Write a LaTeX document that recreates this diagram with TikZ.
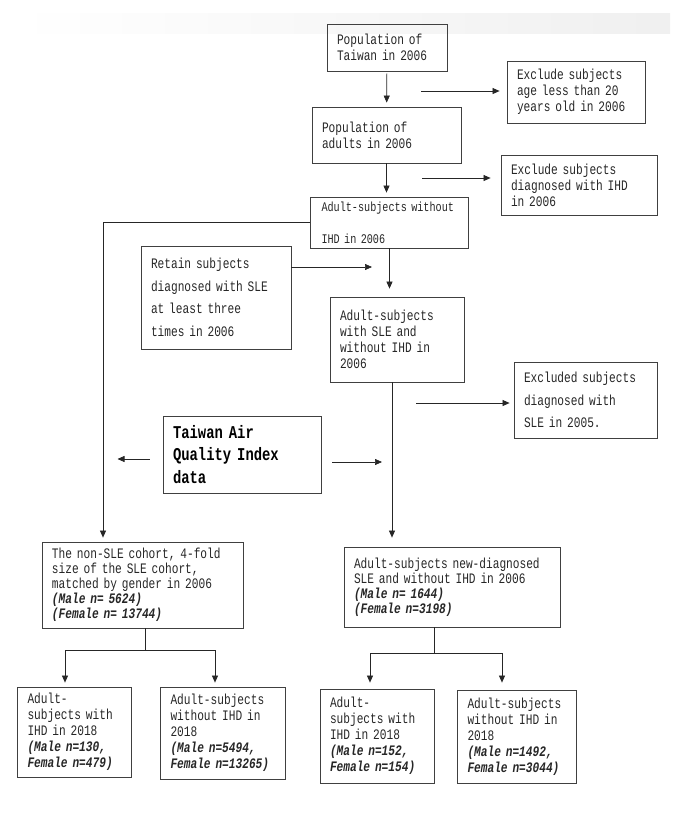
\documentclass[tikz,border=0pt]{standalone}
\usepackage{fontspec}
\newfontfamily\boxfont[FakeStretch=0.77]{Liberation Mono}
\usetikzlibrary{arrows.meta}
\newcommand{\ncount}[1]{\textbf{\textit{#1}}}
\tikzset{
  stepbox/.style   = {draw=black!75, line width=0.8pt, align=left,
                      inner xsep=10pt, inner ysep=2pt, text=black!85,
                      font=\boxfont\fontsize{14.5}{16}\selectfont},
  arr/.style       = {-{Triangle[length=7pt,width=6pt]}, line width=0.7pt,
                      black!85},
  plainline/.style = {line width=0.7pt, black!85}
}

\begin{document}
\begin{tikzpicture}[x=1pt,y=-1pt]
  \useasboundingbox (0,0) rectangle (685,823);
  \shade[left color=white, right color=black!6] (15,13) rectangle (670,33);

  % main column
  \node[stepbox,text width=100pt,minimum height=47pt] (pop) at (387,47.5)
       {Population of\\Taiwan in 2006};
  \node[stepbox,text width=118pt,minimum height=62pt] (exage) at (576,92)
       {Exclude subjects\\age less than 20\\years old in 2006};
  \node[stepbox,text width=129pt,minimum height=56pt] (adults) at (386.5,135)
       {Population of\\adults in 2006};
  \node[stepbox,text width=136pt,minimum height=60pt] (exihd) at (579,185)
       {Exclude subjects\\diagnosed with IHD\\in 2006};
  \node[stepbox,text width=136pt,inner xsep=11pt,minimum height=51pt,
        font=\boxfont\fontsize{13.2}{32}\selectfont] (noihd) at (389.5,222.5)
       {Adult-subjects without\\IHD in 2006};
  \node[stepbox,text width=130pt,minimum height=103pt,
        font=\boxfont\fontsize{14.5}{22.5}\selectfont] (retain) at (216,297.5)
       {Retain subjects\\diagnosed with SLE\\at least three\\times in 2006};
  \node[stepbox,text width=114pt,minimum height=85pt] (sle) at (397,339.5)
       {Adult-subjects\\with SLE and\\without IHD in\\2006};
  \node[stepbox,text width=123pt,minimum height=76pt,
        font=\boxfont\fontsize{14.5}{22.5}\selectfont] (exsle) at (585.5,400)
       {Excluded subjects\\diagnosed with\\SLE in 2005.};
  \node[stepbox,text width=138pt,minimum height=77pt,text=black,
        font=\boxfont\bfseries\fontsize{18}{22.7}\selectfont] (air) at (242,454.5)
       {Taiwan Air\\Quality Index\\data};

  % cohorts
  \node[stepbox,text width=181pt,minimum height=86pt,
        font=\boxfont\fontsize{14.5}{15}\selectfont] (nonsle) at (142.5,585)
       {The non-SLE cohort, 4-fold\\size of the SLE cohort,\\matched by gender in 2006\\
        \ncount{(Male n= 5624)}\\\ncount{(Female n= 13744)}};
  \node[stepbox,text width=196pt,minimum height=80pt,
        font=\boxfont\fontsize{14.5}{15}\selectfont] (newsle) at (452,587)
       {Adult-subjects new-diagnosed\\SLE and without IHD in 2006\\
        \ncount{(Male n= 1644)}\\\ncount{(Female n=3198)}};

  % outcomes in 2018
  \node[stepbox,text width=94pt,minimum height=90pt] (ihdl) at (74.5,732)
       {Adult-\\subjects with\\IHD in 2018\\\ncount{(Male n=130,}\\\ncount{Female n=479)}};
  \node[stepbox,text width=105pt,minimum height=92pt] (noihdl) at (223,733)
       {Adult-subjects\\without IHD in\\2018\\\ncount{(Male n=5494,}\\\ncount{Female n=13265)}};
  \node[stepbox,text width=94pt,minimum height=94pt] (ihdr) at (377,736)
       {Adult-\\subjects with\\IHD in 2018\\\ncount{(Male n=152,}\\\ncount{Female n=154)}};
  \node[stepbox,text width=99pt,minimum height=93pt] (noihdr) at (517,736.5)
       {Adult-subjects\\without IHD in\\2018\\\ncount{(Male n=1492,}\\\ncount{Female n=3044)}};

  % free ends of the side arrows
  \coordinate (s1) at (421,91);
  \coordinate (s2) at (422,178);
  \coordinate (rj) at (372,267);
  \coordinate (s3) at (416,403);
  \coordinate (al) at (117.5,459);
  \coordinate (ar) at (382,462);
  \coordinate (lfork) at ([xshift=2.5pt]nonsle.south |- 0,650);
  \coordinate (rfork) at ([xshift=-18pt]newsle.south |- 0,653);

  \draw[arr, shorten <=2pt, shorten >=4pt] (pop) -- (adults);
  \draw[arr, shorten >=7pt] (s1) -- (s1 -| exage.west);
  \draw[arr, shorten >=4pt] (adults) -- (adults |- noihd.north);
  \draw[arr, shorten >=10pt] (s2) -- (s2 -| exihd.west);
  \draw[arr, shorten >=8pt] (noihd.south) -- (noihd.south |- sle.north);
  \draw[arr] (retain.east |- rj) -- (rj);
  \draw[arr, shorten >=4pt] (noihd.west) -| ([xshift=-39.5pt]nonsle.north);
  \draw[arr, shorten >=9pt] ([xshift=-5pt]sle.south)
        -- ([xshift=-5pt]sle.south |- newsle.north);
  \draw[arr, shorten >=4pt] (s3) -- (s3 -| exsle.west);
  \draw[arr, shorten <=13pt] (air.west |- al) -- (al);
  \draw[arr, shorten <=11pt] (air.east |- ar) -- (ar);

  \draw[plainline] ([xshift=2.5pt]nonsle.south) -- (lfork);
  \draw[arr, shorten >=4pt] (lfork) -| ([xshift=-9.5pt]ihdl.north);
  \draw[arr, shorten >=4pt] (lfork) -| ([xshift=-8pt]noihdl.north);
  \draw[plainline] ([xshift=-18pt]newsle.south) -- (rfork);
  \draw[arr, shorten >=6pt] (rfork) -| ([xshift=-7pt]ihdr.north);
  \draw[arr, shorten >=7pt] (rfork) -| ([xshift=-15pt]noihdr.north);
\end{tikzpicture}
\end{document}
